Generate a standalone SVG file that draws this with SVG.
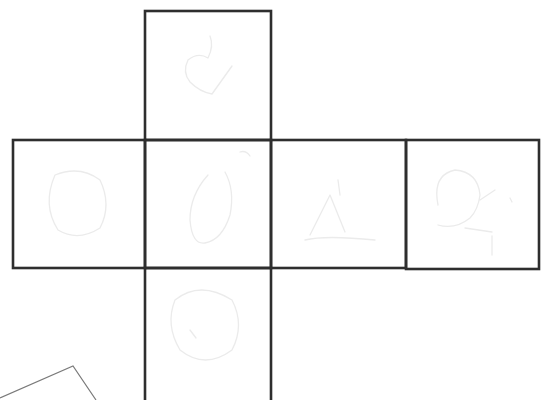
<svg xmlns="http://www.w3.org/2000/svg" width="543" height="400" viewBox="0 0 543 400">
<style>
.face{fill:none;stroke:#2e2e2e;stroke-width:2.6}
.sk{fill:none;stroke:#ebebeb;stroke-width:1.3;stroke-linecap:round;stroke-linejoin:round}
.cut{fill:none;stroke:#7a7a7a;stroke-width:1.2}
</style>
<rect width="543" height="400" fill="#ffffff"/>
<g id="face-top">
<rect class="face" x="145" y="11" width="126" height="129"/>
<path class="sk" d="M188 60 Q182 72 190 82 Q200 92 212 94 Q222 80 232 66 M188 60 Q198 52 208 58 Q214 46 210 36"/>
</g>
<g id="face-left">
<rect class="face" x="13" y="140" width="132" height="128"/>
<path class="sk" d="M55 175 Q80 165 100 180 Q112 205 100 228 Q78 242 58 230 Q42 205 55 175 Z"/>
</g>
<g id="face-front">
<rect class="face" x="145" y="140" width="126" height="128"/>
<path class="sk" d="M208 175 Q190 195 190 220 Q192 245 205 243 Q222 240 230 215 Q235 190 225 172 M240 152 Q246 150 250 156"/>
</g>
<g id="face-right">
<rect class="face" x="271" y="140" width="135" height="128"/>
<path class="sk" d="M305 240 Q325 235 375 240 M310 235 L330 195 L345 232 M338 180 L340 195"/>
</g>
<g id="face-back">
<rect class="face" x="406" y="140" width="133" height="129"/>
<path class="sk" d="M438 205 Q432 175 455 170 Q478 172 480 195 Q478 210 470 218 Q455 230 438 225 M480 200 L495 190 M465 228 L492 232 M492 236 L492 255 M510 198 L512 202"/>
</g>
<g id="face-bottom">
<rect class="face" x="145" y="268" width="126" height="140"/>
<path class="sk" d="M175 300 Q200 280 232 300 Q245 325 232 350 Q205 370 180 350 Q165 325 175 300 Z M190 330 L196 338"/>
</g>
<g id="connectors">
<polyline class="cut" points="0,398 73,366 96,400"/>
</g>
</svg>
